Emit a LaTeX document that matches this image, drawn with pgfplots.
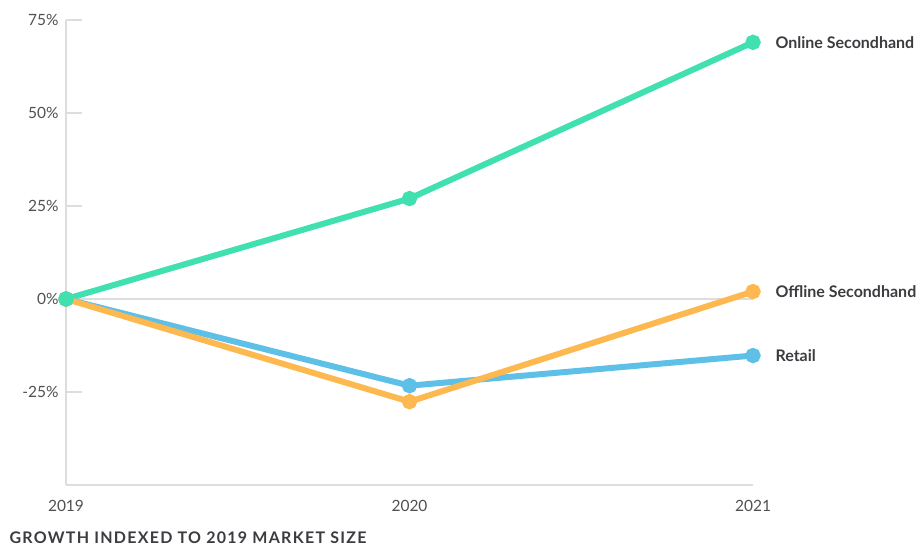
\documentclass[border=0pt]{standalone}
\usepackage{pgfplots}
\pgfplotsset{compat=1.18}
\usepackage{fontspec}
\setmainfont{Lato}
\definecolor{cgreen}{RGB}{64,224,176}
\definecolor{corange}{RGB}{253,185,80}
\definecolor{cblue}{RGB}{94,192,230}
\definecolor{axgray}{RGB}{221,221,221}
\definecolor{tickgray}{RGB}{80,80,80}
\definecolor{labgray}{RGB}{60,60,64}
\begin{document}
\begin{tikzpicture}
\useasboundingbox (-66pt,-64pt) rectangle (854pt,485pt);
\begin{axis}[
  at={(0pt,0pt)}, anchor=south west,
  scale only axis, width=687pt, height=465pt,
  xmin=0, xmax=2, ymin=-50, ymax=75,
  axis x line*=bottom, axis y line*=left,
  axis line style={axgray, line width=1.5pt},
  every inner x axis line/.append style={-},
  every inner y axis line/.append style={-},
  xtick={0,1,2}, xticklabels={2019,2020,2021},
  x tick style={draw=none},
  ytick={-25,25,50,75},
  yticklabels={-25\%,25\%,50\%,75\%},
  extra y ticks={0}, extra y tick labels={0\%},
  extra y tick style={grid=major, major grid style={axgray, line width=1.5pt}, tick style={draw=none}},
  y tick style={axgray, line width=1.5pt},
  tick align=inside, major tick length=16pt,
  tick label style={font=\fontsize{15.5}{18}\selectfont, text=tickgray},
  /pgf/number format/assume math mode=true,
  yticklabel style={xshift=-4pt},
  xticklabel style={yshift=-12pt},
  clip=false,
  every axis plot/.append style={line width=6pt, mark=*, mark size=4.6pt, mark options={solid, draw=none}},
]
\addplot[cgreen, mark options={fill=cgreen}] coordinates {(0,0) (1,27) (2,69)};
\addplot[cblue, mark options={fill=cblue}] coordinates {(0,0) (1,-23.3) (2,-15.2)};
\addplot[corange, mark options={fill=corange}] coordinates {(0,0) (1,-27.6) (2,2)};
\addplot[cgreen, only marks, mark options={fill=cgreen}] coordinates {(0,0)};
\node[anchor=west, font=\fontsize{16}{18}\selectfont\bfseries, text=labgray, xshift=19pt] at (axis cs:2,69) {Online Secondhand};
\node[anchor=west, font=\fontsize{16}{18}\selectfont\bfseries, text=labgray, xshift=19pt] at (axis cs:2,2) {Offline Secondhand};
\node[anchor=west, font=\fontsize{16}{18}\selectfont\bfseries, text=labgray, xshift=19pt] at (axis cs:2,-15.2) {Retail};
\end{axis}
\node[anchor=base west, font=\fontsize{16}{18}\selectfont\bfseries\addfontfeatures{LetterSpace=8}, text=labgray] at (-60pt,-58pt) {GROWTH INDEXED TO 2019 MARKET SIZE};
\end{tikzpicture}
\end{document}
